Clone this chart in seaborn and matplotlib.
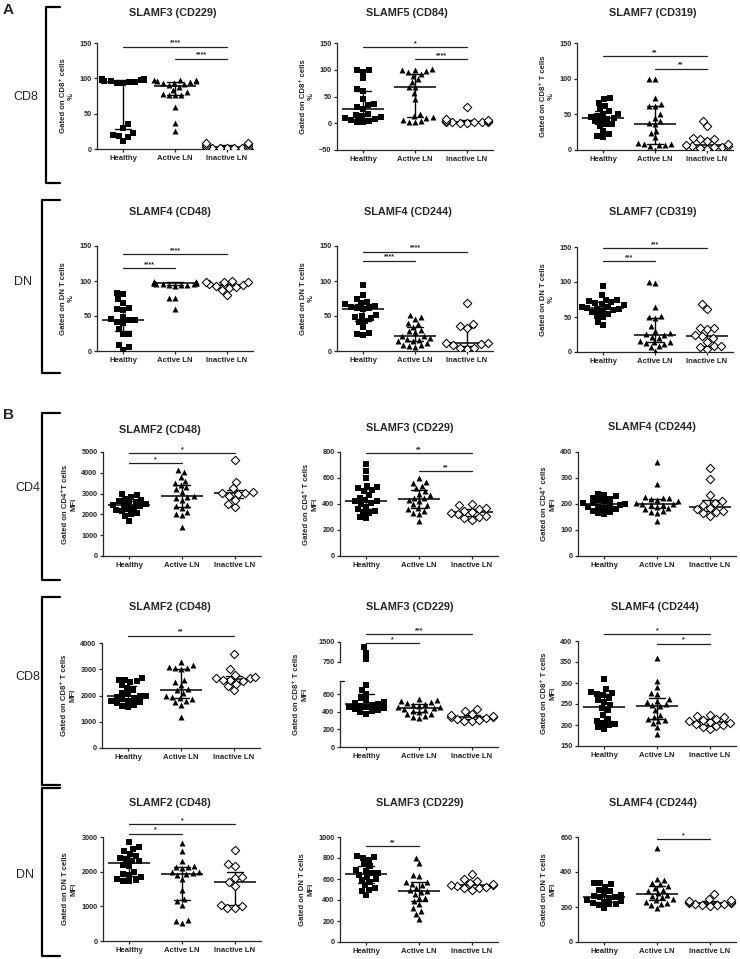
import warnings
import numpy as np
import pandas as pd
import matplotlib
matplotlib.use('Agg')
import matplotlib.pyplot as plt
from matplotlib.lines import Line2D
import seaborn as sns

warnings.filterwarnings('ignore')

groups = ['Healthy', 'Active LN', 'Inactive LN']

# ---- A: % positive cells ----
a1_h = [12, 17, 19, 20, 22, 30, 35, 93, 94, 95, 95, 96, 96, 97, 97, 98, 98, 98, 99, 99]
a1_a = [25, 37, 60, 76, 77, 77, 78, 80, 84, 88, 90, 92, 93, 94, 95, 96, 96, 97, 97, 98]
a1_i = [1, 1, 1, 1.5, 2, 2, 3, 4, 5, 7, 8, 9]

a2_h = [2, 3, 5, 7, 8, 10, 12, 13, 15, 17, 27, 30, 34, 36, 45, 60, 64, 84, 96, 99, 100]
a2_a = [2, 3, 4, 7, 10, 12, 13, 17, 45, 56, 68, 68, 78, 82, 89, 92, 95, 98, 100, 100, 101]
a2_i = [0, 1, 2, 2, 3, 3, 3, 4, 5, 6, 8, 31]

a3_h = [18, 19, 22, 27, 34, 36, 37, 40, 42, 44, 45, 46, 48, 50, 51, 54, 57, 62, 66, 72, 73]
a3_a = [0.5, 5, 7, 7, 8, 9, 10, 18, 24, 27, 36, 38, 41, 45, 50, 61, 62, 64, 73, 100, 100]
a3_i = [2, 3, 4, 4, 5, 6, 7, 8, 12, 15, 16, 17, 33, 41]

a4_h = [2, 6, 9, 24, 25, 31, 40, 42, 44, 45, 46, 49, 58, 60, 62, 69, 74, 81, 83]
a4_a = [60, 76, 76, 93, 94, 95, 95, 96, 96, 96, 97, 97, 97, 97, 98, 98, 98, 98, 99, 99]
a4_i = [80, 87, 90, 91, 93, 95, 96, 98, 99, 99, 100]

a5_h = [23, 25, 26, 35, 41, 43, 47, 48, 50, 52, 60, 61, 62, 63, 65, 67, 68, 70, 75, 80, 94]
a5_a = [6, 7, 8, 9, 12, 14, 14, 16, 17, 19, 21, 22, 27, 28, 30, 35, 39, 40, 46, 49, 52]
a5_i = [3, 4, 5, 8, 10, 12, 12, 33, 36, 38, 68]

a6_h = [38, 43, 50, 52, 55, 57, 59, 60, 61, 62, 63, 64, 65, 67, 68, 70, 71, 73, 74, 75, 82, 95]
a6_a = [1, 7, 8, 12, 13, 14, 15, 16, 20, 22, 25, 26, 27, 30, 37, 49, 50, 51, 65, 99, 100]
a6_i = [5, 7, 8, 9, 15, 20, 23, 25, 33, 34, 35, 61, 68]

# ---- B: MFI ----
b1_h = [1680, 1900, 2000, 2050, 2150, 2200, 2250, 2300, 2400, 2450, 2450, 2500, 2550, 2600, 2650, 2700, 2750, 2850, 2950, 3000]
b1_a = [1400, 1950, 2000, 2100, 2300, 2400, 2450, 2700, 2800, 2850, 2900, 3100, 3200, 3300, 3400, 3500, 3600, 3800, 4050, 4150]
b1_i = [2350, 2500, 2700, 2900, 3000, 3050, 3050, 3100, 3250, 3550, 4600]

b2_h = [290, 300, 330, 340, 350, 360, 380, 400, 410, 420, 420, 430, 450, 470, 500, 510, 520, 530, 540, 600, 655, 710]
b2_a = [270, 320, 330, 350, 360, 370, 390, 400, 420, 430, 445, 450, 470, 480, 500, 520, 540, 560, 570, 600]
b2_i = [280, 290, 300, 310, 320, 330, 340, 350, 360, 370, 390, 400]

b3_h = [160, 165, 170, 175, 180, 185, 188, 190, 195, 198, 200, 202, 205, 210, 215, 220, 225, 230, 235, 240]
b3_a = [135, 165, 170, 175, 180, 185, 190, 195, 198, 200, 200, 205, 210, 215, 220, 222, 225, 228, 278, 363]
b3_i = [155, 165, 170, 175, 180, 185, 195, 205, 210, 235, 297, 338]

b4_h = [1550, 1600, 1650, 1700, 1750, 1800, 1800, 1850, 1900, 1950, 2000, 2000, 2050, 2100, 2200, 2300, 2400, 2500, 2550, 2600, 2600, 2650]
b4_a = [1200, 1650, 1750, 1800, 1850, 1900, 1950, 2000, 2100, 2200, 2250, 2400, 2500, 2600, 3000, 3050, 3050, 3100, 3150, 3280]
b4_i = [2200, 2350, 2450, 2550, 2600, 2600, 2650, 2650, 2700, 2800, 3000, 3600]

b5_h = [380, 400, 410, 420, 430, 440, 450, 460, 470, 480, 490, 500, 510, 530, 560, 600, 650, 700, 850, 1100, 1300]
b5_a = [330, 340, 350, 370, 380, 400, 410, 420, 430, 440, 450, 460, 470, 480, 490, 500, 510, 520, 530, 540]
b5_i = [290, 300, 310, 320, 330, 340, 345, 350, 360, 380, 410, 430]

b6_h = [191, 195, 200, 202, 205, 210, 215, 225, 235, 240, 248, 255, 260, 265, 272, 275, 277, 278, 285, 309]
b6_a = [178, 195, 205, 210, 212, 215, 220, 225, 235, 245, 247, 250, 255, 258, 262, 275, 277, 290, 305, 360]
b6_i = [190, 195, 198, 200, 203, 205, 208, 210, 212, 215, 218, 222, 225]

b7_h = [1720, 1740, 1750, 1800, 1840, 1900, 1920, 2000, 2150, 2200, 2300, 2300, 2350, 2400, 2450, 2500, 2600, 2650, 2700, 2850]
b7_a = [520, 580, 600, 1040, 1150, 1200, 1480, 1800, 1900, 1920, 1950, 1990, 2000, 2100, 2130, 2140, 2150, 2320, 2590, 2830]
b7_i = [940, 960, 1000, 1050, 1580, 1700, 1830, 1850, 2150, 2220, 2620]

b8_h = [450, 490, 500, 510, 540, 570, 590, 600, 620, 640, 660, 660, 680, 690, 720, 740, 780, 800, 810, 820]
b8_a = [220, 270, 300, 320, 360, 390, 420, 420, 460, 475, 490, 500, 515, 540, 555, 570, 575, 630, 640, 750, 800]
b8_i = [500, 510, 515, 520, 530, 540, 545, 555, 565, 580, 600, 650]

b9_h = [195, 210, 215, 220, 225, 230, 235, 240, 250, 255, 258, 265, 270, 280, 290, 300, 315, 330, 335, 340]
b9_a = [195, 210, 220, 225, 230, 240, 245, 255, 265, 270, 280, 290, 300, 310, 320, 330, 340, 355, 360, 535]
b9_i = [205, 210, 212, 215, 220, 222, 225, 228, 230, 235, 240, 245, 276]

W, H = 740, 959
sns.set_style('ticks')
plt.rcParams['font.family'] = ['Liberation Sans', 'DejaVu Sans']
plt.rcParams['font.weight'] = 'bold'
plt.rcParams['axes.linewidth'] = 0.9

fig = plt.figure(figsize=(W / 100, H / 100), dpi=100)

def px_axes(box):
    x0, y0, x1, y1 = box
    return fig.add_axes([x0 / W, 1 - y1 / H, (x1 - x0) / W, (y1 - y0) / H])

def make_df(h, a, i):
    return pd.DataFrame({'group': [groups[0]] * len(h) + [groups[1]] * len(a) + [groups[2]] * len(i),
                         'value': list(h) + list(a) + list(i)})

styles = {
    'Healthy': dict(marker='s', color='black', linewidth=0),
    'Active LN': dict(marker='^', color='black', linewidth=0),
    'Inactive LN': dict(marker='D', color='white', edgecolor='black', linewidth=0.75),
}

def swarm(ax, df):
    for g in groups:
        sub = df[df.group == g]
        if len(sub):
            sns.swarmplot(data=sub, x='group', y='value', order=groups, size=4.3, ax=ax, **styles[g])

def median_iqr(ax, df):
    sns.pointplot(data=df, x='group', y='value', order=groups, estimator='median',
                  errorbar=('pi', 50), color='black', linestyle='none', marker='_',
                  markersize=30, markeredgewidth=1.1, capsize=0.3,
                  err_kws={'linewidth': 1.0}, ax=ax)

def style_axes(ax, ylim, yticks, xlabels=True):
    ax.set_ylim(*ylim)
    ax.set_yticks(yticks)
    ax.set_xlim(-0.5, 2.5)
    ax.set_xlabel('')
    ax.set_ylabel('')
    sns.despine(ax=ax)
    ax.tick_params(axis='both', labelsize=5.2, width=0.9, length=2.5, pad=1.5)
    if xlabels:
        ax.set_xticks(range(3))
        ax.set_xticklabels(groups, fontsize=5.6, fontweight='bold')
    for t in ax.get_yticklabels():
        t.set_fontweight('bold')

def sig(ax, i, j, y, text):
    ax.plot([i, j], [y, y], color='#222222', lw=0.9, clip_on=False)
    ax.text((i + j) / 2, y, text, ha='center', va='bottom', fontsize=5, clip_on=False)

panels = [
    # data, title, title center px, axes box px, ylim, yticks, ylabel, significance bars
    ((a1_h, a1_a, a1_i), 'SLAMF3 (CD229)', (173, 13), (97, 43, 253, 149), (0, 150), [0, 50, 100, 150],
     'Gated on CD8\u207a cells\n%', [(0, 2, 145, '****'), (1, 2, 128, '****')]),
    ((a2_h, a2_a, a2_i), 'SLAMF5 (CD84)', (407, 13), (337, 43, 493, 150), (-50, 150), [-50, 0, 50, 100, 150],
     'Gated on CD8\u207a cells\n%', [(0, 2, 143, '*'), (1, 2, 120, '****')]),
    ((a3_h, a3_a, a3_i), 'SLAMF7 (CD319)', (653, 13), (577, 43, 733, 150), (0, 150), [0, 50, 100, 150],
     'Gated on CD8\u207a T cells\n%', [(0, 2, 132, '**'), (1, 2, 114, '**')]),
    ((a4_h, a4_a, a4_i), 'SLAMF4 (CD48)', (170, 212), (97, 246, 253, 351), (0, 150), [0, 50, 100, 150],
     'Gated on DN T cells\n%', [(0, 2, 138, '****'), (0, 1, 118, '****')]),
    ((a5_h, a5_a, a5_i), 'SLAMF4 (CD244)', (408, 212), (337, 246, 493, 351), (0, 150), [0, 50, 100, 150],
     'Gated on DN T cells\n%', [(0, 2, 142, '****'), (0, 1, 129, '****')]),
    ((a6_h, a6_a, a6_i), 'SLAMF7 (CD319)', (653, 212), (577, 247, 733, 352), (0, 150), [0, 50, 100, 150],
     'Gated on DN T cells\n%', [(0, 2, 148, '***'), (0, 1, 130, '***')]),
    ((b1_h, b1_a, b1_i), 'SLAMF2 (CD48)', (160, 430), (103, 452, 261, 556), (0, 5000), [0, 1000, 2000, 3000, 4000, 5000],
     'Gated on CD4\u207aT cells\nMFI', [(0, 2, 4950, '*'), (0, 1, 4480, '*')]),
    ((b2_h, b2_a, b2_i), 'SLAMF3 (CD229)', (410, 428), (340, 452, 498, 556), (0, 800), [0, 200, 400, 600, 800],
     'Gated on CD4\u207a T cells\nMFI', [(0, 2, 792, '**'), (1, 2, 654, '**')]),
    ((b3_h, b3_a, b3_i), 'SLAMF4 (CD244)', (652, 427), (578, 452, 736, 556), (0, 400), [0, 100, 200, 300, 400],
     'Gated on CD4\u207a cells\nMFI', []),
    ((b4_h, b4_a, b4_i), 'SLAMF2 (CD48)', (170, 607), (102, 643, 260, 748), (0, 4000), [0, 1000, 2000, 3000, 4000],
     'Gated on CD8\u207a T cells\nMFI', [(0, 2, 4280, '**')]),
    None,
    ((b6_h, b6_a, b6_i), 'SLAMF4 (CD244)', (655, 607), (578, 641, 736, 746), (150, 400), [150, 200, 250, 300, 350, 400],
     'Gated on CD8\u207a T cells\nMFI', [(0, 2, 417, '*'), (1, 2, 394, '*')]),
    ((b7_h, b7_a, b7_i), 'SLAMF2 (CD48)', (170, 803), (103, 837, 261, 941), (0, 3000), [0, 1000, 2000, 3000],
     'Gated on DN T cells\nMFI', [(0, 2, 3375, '*'), (0, 1, 3100, '*')]),
    ((b8_h, b8_a, b8_i), 'SLAMF3 (CD229)', (420, 803), (340, 837, 498, 942), (0, 1000), [0, 200, 400, 600, 800, 1000],
     'Gated on DN T cells\nMFI', [(0, 1, 914, '**')]),
    ((b9_h, b9_a, b9_i), 'SLAMF4 (CD244)', (653, 803), (578, 837, 736, 942), (0, 600), [0, 200, 400, 600],
     'Gated on DN T cells\nMFI', [(1, 2, 590, '*')]),
]

for p in panels:
    if p is None:
        continue
    (h, a, i), title, tpos, box, ylim, yticks, ylabel, bars = p
    df = make_df(h, a, i)
    ax = px_axes(box)
    swarm(ax, df)
    median_iqr(ax, df)
    style_axes(ax, ylim, yticks)
    ax.set_ylabel(ylabel, fontsize=5.6, fontweight='bold', labelpad=3)
    for b in bars:
        sig(ax, *b)
    fig.text(tpos[0] / W, 1 - tpos[1] / H, title, ha='center', va='center', fontsize=7.8, fontweight='bold')

# B5: broken y axis
df5 = make_df(b5_h, b5_a, b5_i)
ax_u = px_axes((340, 642, 498, 662))
ax_l = px_axes((340, 681, 498, 747))
swarm(ax_u, df5[df5.value >= 750])
swarm(ax_l, df5[df5.value < 750])
median_iqr(ax_l, df5)
style_axes(ax_u, (750, 1500), [750, 1500], xlabels=False)
ax_u.spines['bottom'].set_visible(False)
ax_u.tick_params(axis='x', bottom=False, labelbottom=False)
style_axes(ax_l, (0, 750), [0, 200, 400, 600])
ax_l.set_ylabel('Gated on CD8\u207a T cells\nMFI', fontsize=5.6, fontweight='bold', labelpad=3)
ax_l.yaxis.set_label_coords(-0.2, 0.8)
ax_l.plot([-0.5, -0.42], [750, 750], color='black', lw=0.9, clip_on=False)
sig(ax_u, 0, 2, 1800, '***')
sig(ax_u, 0, 1, 1460, '*')
fig.text(410 / W, 1 - 607 / H, 'SLAMF3 (CD229)', ha='center', va='center', fontsize=7.8, fontweight='bold')

# brackets, row labels, section letters
brackets = [(46, 7, 183), (42, 200, 373), (42, 413, 580), (42, 597, 785), (42, 788, 956)]
for x, y0, y1 in brackets:
    xs = [60, x, x, 60]
    ys = [y0, y0, y1, y1]
    fig.add_artist(Line2D([v / W for v in xs], [1 - v / H for v in ys], color='black', lw=1.6,
                          transform=fig.transFigure))

row_labels = [('CD8', 26, 97), ('DN', 23, 282), ('CD4', 28, 488), ('CD8', 28, 677), ('DN', 25, 875)]
for txt, x, y in row_labels:
    fig.text(x / W, 1 - y / H, txt, ha='center', va='center', fontsize=9, fontweight='normal')

fig.text(8 / W, 1 - 10 / H, 'A', ha='center', va='center', fontsize=11, fontweight='bold')
fig.text(8 / W, 1 - 415 / H, 'B', ha='center', va='center', fontsize=11, fontweight='bold')

fig.savefig('out.png', dpi=100)
